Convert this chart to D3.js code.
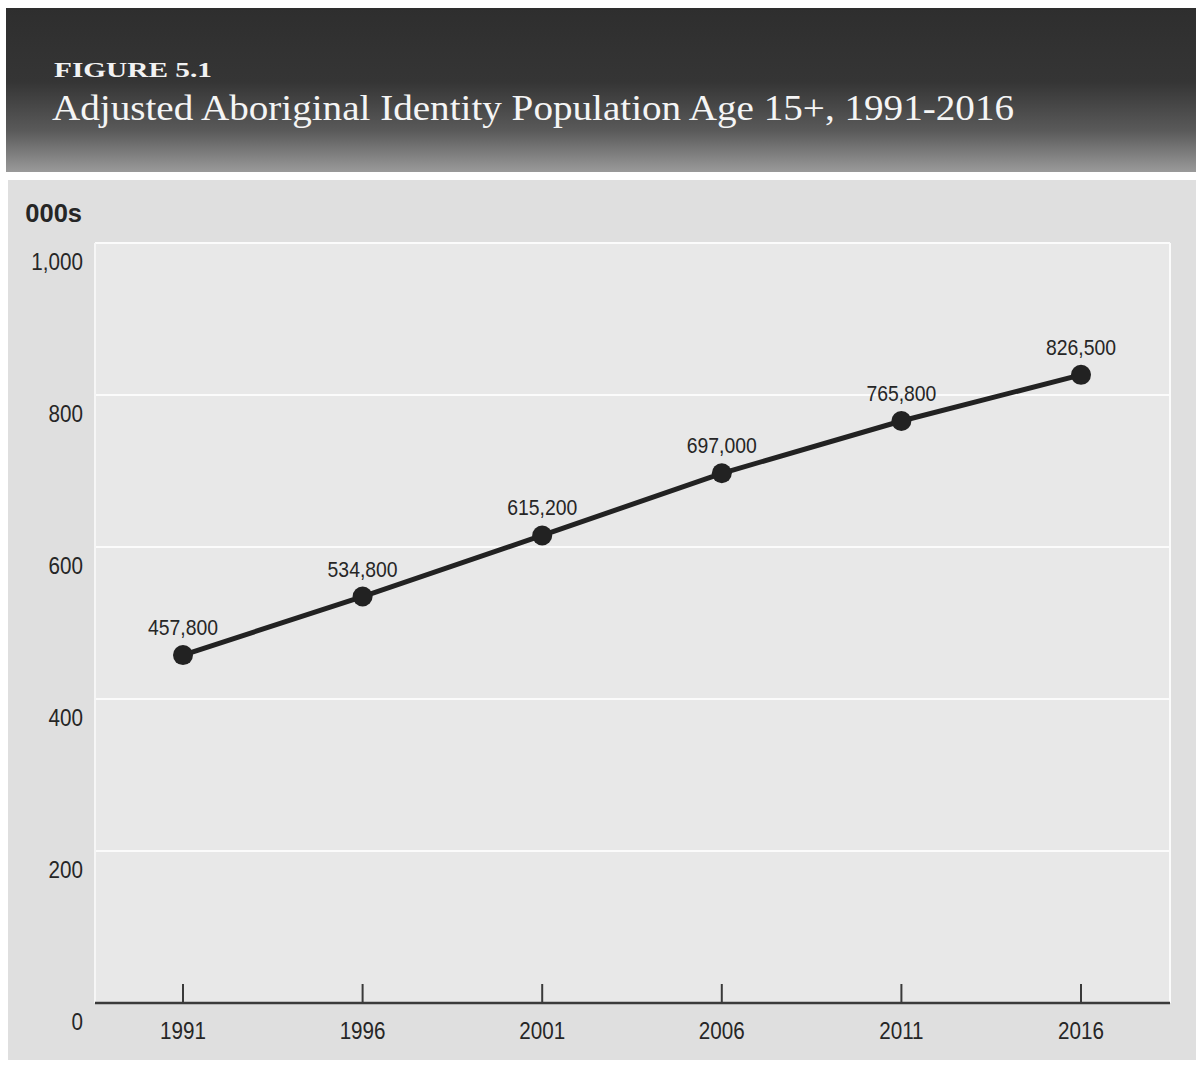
<!DOCTYPE html>
<html>
<head>
<meta charset="utf-8">
<script src="https://cdn.jsdelivr.net/npm/d3@7"></script>
<style>
  html, body { margin: 0; padding: 0; background: #ffffff; }
  svg { display: block; }
  .num { font-family: "Liberation Sans Narrow", "Arial Narrow", "Liberation Sans", sans-serif; fill: #262626; }
</style>
</head>
<body>
<svg id="chart" width="1196" height="1065"></svg>
<script>
// Census years and adjusted Aboriginal identity population age 15+ (thousands)
const years = [1991, 1996, 2001, 2006, 2011, 2016];
const population = [457.8, 534.8, 615.2, 697.0, 765.8, 826.5];
const yTicks = [0, 200, 400, 600, 800, 1000];

const svg = d3.select("#chart");
const defs = svg.append("defs");

// Condensed numeric label: text placed at (px, py), squeezed horizontally
function narrowText(sel, px, py, sx) {
  return sel.attr("transform", d => `translate(${px(d)},${py(d)}) scale(${sx},1)`);
}

// Header band: dark at top, fading to mid grey at the bottom
const hg = defs.append("linearGradient").attr("id", "hdr").attr("x1", 0).attr("y1", 0).attr("x2", 0).attr("y2", 1);
hg.append("stop").attr("offset", "0").attr("stop-color", "#2e2e2e");
hg.append("stop").attr("offset", "0.45").attr("stop-color", "#353535");
hg.append("stop").attr("offset", "0.75").attr("stop-color", "#5a5a5a");
hg.append("stop").attr("offset", "1").attr("stop-color", "#9a9a9a");

svg.append("rect").attr("x", 6).attr("y", 8).attr("width", 1190).attr("height", 164).attr("fill", "url(#hdr)");

svg.append("text").attr("x", 54).attr("y", 77)
  .attr("font-family", "Liberation Serif, DejaVu Serif, serif")
  .attr("font-size", 22).attr("font-weight", "bold").attr("fill", "#f2f2f2")
  .attr("textLength", 158).attr("lengthAdjust", "spacingAndGlyphs")
  .text("FIGURE 5.1");
svg.append("text").attr("x", 52).attr("y", 120)
  .attr("font-family", "Liberation Serif, DejaVu Serif, serif")
  .attr("font-size", 36).attr("fill", "#f5f5f5")
  .attr("textLength", 962).attr("lengthAdjust", "spacingAndGlyphs")
  .text("Adjusted Aboriginal Identity Population Age 15+, 1991-2016");

// Chart panel
svg.append("rect").attr("x", 8).attr("y", 180).attr("width", 1188).attr("height", 880).attr("fill", "#dfdfdf");

const plot = { left: 95, right: 1170, top: 243, bottom: 1003 };

const x = d3.scalePoint().domain(years).range([183, 1081]);
const y = d3.scaleLinear().domain([0, 1000]).range([plot.bottom, plot.top]);

// Inner plotting area with white borders and gridlines
svg.append("rect").attr("x", plot.left).attr("y", plot.top)
  .attr("width", plot.right - plot.left).attr("height", plot.bottom - plot.top)
  .attr("fill", "#e8e8e8");
svg.append("g").selectAll("line").data(yTicks.filter(d => d > 0)).join("line")
  .attr("x1", plot.left).attr("x2", plot.right)
  .attr("y1", d => y(d)).attr("y2", d => y(d))
  .attr("stroke", "#fbfbfb").attr("stroke-width", 2);
svg.append("line").attr("x1", plot.left).attr("x2", plot.left).attr("y1", plot.top).attr("y2", plot.bottom)
  .attr("stroke", "#f6f6f6").attr("stroke-width", 2);
svg.append("line").attr("x1", plot.right).attr("x2", plot.right).attr("y1", plot.top).attr("y2", plot.bottom)
  .attr("stroke", "#fbfbfb").attr("stroke-width", 2);

// Y axis labels (set just below each gridline)
svg.append("g").selectAll("text").data(yTicks).join("text")
  .attr("class", "num").attr("text-anchor", "end").attr("font-size", 24)
  .call(narrowText, () => 83, d => y(d) + 27, 0.86)
  .text(d => d3.format(",")(d));
svg.append("text").attr("class", "num")
  .attr("text-anchor", "end").attr("font-size", 26).attr("font-weight", "bold")
  .attr("transform", "translate(82,222) scale(0.98,1)")
  .text("000s");

// X axis baseline with upward ticks
svg.append("line").attr("x1", plot.left).attr("x2", plot.right)
  .attr("y1", plot.bottom).attr("y2", plot.bottom)
  .attr("stroke", "#3a3a3a").attr("stroke-width", 2.5);
svg.append("g").selectAll("line").data(years).join("line")
  .attr("x1", d => x(d)).attr("x2", d => x(d))
  .attr("y1", plot.bottom - 19).attr("y2", plot.bottom)
  .attr("stroke", "#3a3a3a").attr("stroke-width", 2);
svg.append("g").selectAll("text").data(years).join("text")
  .attr("class", "num").attr("text-anchor", "middle").attr("font-size", 24)
  .call(narrowText, d => x(d), () => plot.bottom + 36, 0.86)
  .text(d => d3.format("d")(d));

// Series line and markers
const pts = years.map((yr, i) => ({ yr, v: population[i] }));
svg.append("path").datum(pts)
  .attr("d", d3.line().x(d => x(d.yr)).y(d => y(d.v)))
  .attr("fill", "none").attr("stroke", "#222").attr("stroke-width", 5);
svg.append("g").selectAll("circle").data(pts).join("circle")
  .attr("cx", d => x(d.yr)).attr("cy", d => y(d.v)).attr("r", 10)
  .attr("fill", "#222");

// Value labels
svg.append("g").selectAll("text").data(pts).join("text")
  .attr("class", "num").attr("text-anchor", "middle").attr("font-size", 22)
  .call(narrowText, d => x(d.yr), d => y(d.v) - 20, 0.88)
  .text(d => d3.format(",")(Math.round(d.v * 1000)));
</script>
</body>
</html>
